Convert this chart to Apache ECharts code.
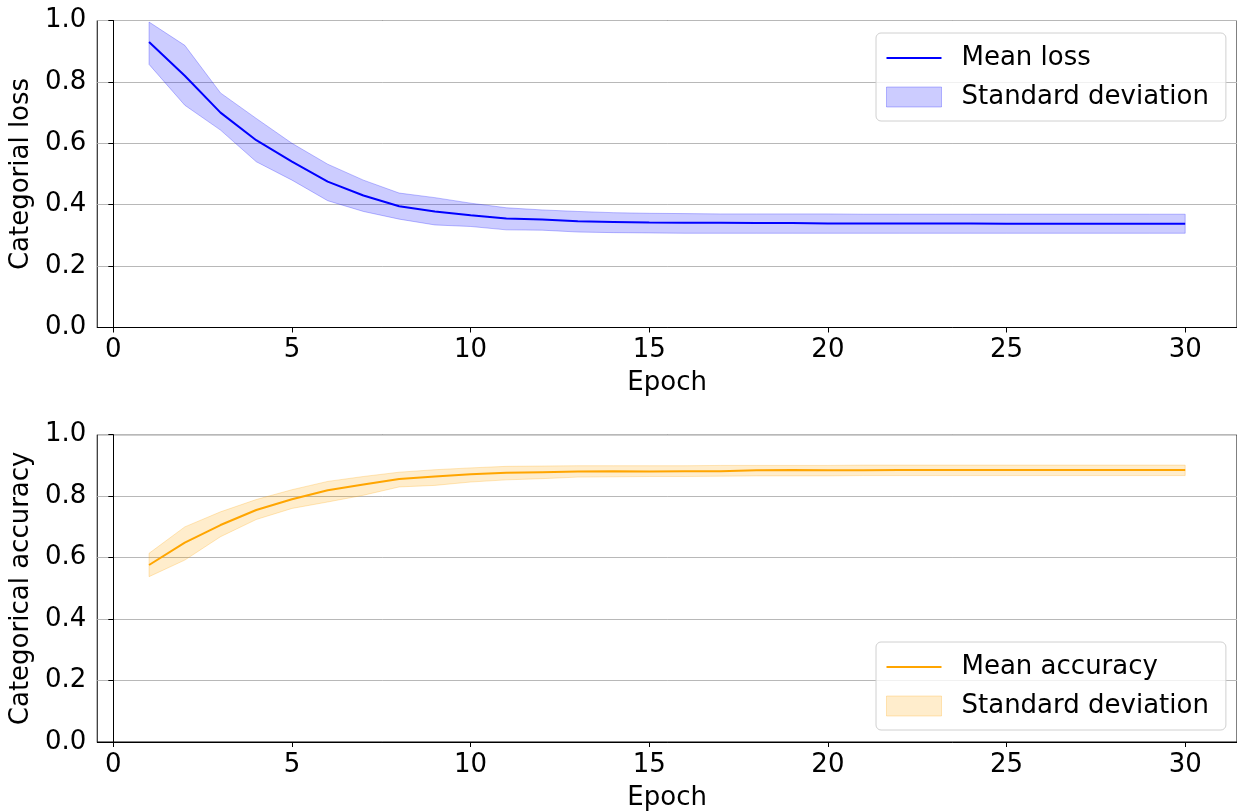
<!DOCTYPE html>
<html>
<head>
<meta charset="utf-8">
<script src="https://cdn.jsdelivr.net/npm/echarts@6/dist/echarts.min.js"></script>
<style>
  html, body { margin: 0; padding: 0; background: #fff; }
  #chart { width: 1237px; height: 812px; }
</style>
</head>
<body>
<div id="chart"></div>
<script>
// Training curves: mean categorical loss / accuracy per epoch with a ±1 std band
const epochs = [1,2,3,4,5,6,7,8,9,10,11,12,13,14,15,16,17,18,19,20,21,22,23,24,25,26,27,28,29,30];

const lossMean  = [0.930,0.820,0.700,0.610,0.540,0.475,0.430,0.395,0.378,0.366,0.355,0.352,0.346,0.344,0.342,0.341,0.341,0.340,0.340,0.339,0.339,0.339,0.339,0.339,0.338,0.338,0.338,0.338,0.338,0.338];
const lossUpper = [0.995,0.919,0.764,0.681,0.600,0.532,0.480,0.438,0.423,0.405,0.390,0.383,0.378,0.374,0.372,0.371,0.370,0.370,0.370,0.370,0.369,0.369,0.369,0.369,0.369,0.369,0.369,0.369,0.369,0.369];
const lossLower = [0.857,0.724,0.643,0.540,0.480,0.413,0.378,0.353,0.334,0.329,0.318,0.317,0.311,0.309,0.308,0.307,0.307,0.307,0.307,0.307,0.307,0.307,0.307,0.307,0.307,0.307,0.307,0.307,0.307,0.307];

const accMean  = [0.576,0.649,0.706,0.755,0.790,0.819,0.838,0.856,0.864,0.871,0.876,0.878,0.880,0.881,0.880,0.881,0.881,0.884,0.885,0.884,0.884,0.885,0.885,0.885,0.885,0.885,0.885,0.885,0.885,0.885];
const accUpper = [0.614,0.700,0.749,0.789,0.821,0.848,0.864,0.878,0.886,0.892,0.897,0.898,0.899,0.899,0.899,0.899,0.900,0.900,0.900,0.900,0.901,0.901,0.901,0.901,0.901,0.901,0.901,0.901,0.901,0.901];
const accLower = [0.538,0.592,0.668,0.724,0.760,0.781,0.803,0.830,0.835,0.846,0.853,0.857,0.862,0.863,0.864,0.864,0.865,0.866,0.866,0.866,0.867,0.867,0.867,0.867,0.867,0.867,0.867,0.867,0.867,0.867];

const xTicks = [0,5,10,15,20,25,30];

const legendText = {
  lossMean: 'Mean loss',
  lossStd: 'Standard deviation',
  accMean: 'Mean accuracy',
  accStd: 'Standard deviation'
};

const FONT = 'DejaVu Sans';
const FS = 26;

function xAxisFor(gridIndex) {
  return {
    type: 'value', gridIndex,
    min: -0.45, max: 31.45,
    name: 'Epoch', nameLocation: 'middle', nameGap: 43,
    nameTextStyle: { fontFamily: FONT, fontSize: FS, color: '#000' },
    axisLine: { show: true, lineStyle: { color: '#000', width: 1 } },
    axisTick: { show: true, inside: false, length: 5, lineStyle: { color: '#000' }, customValues: xTicks },
    axisLabel: { fontFamily: FONT, fontSize: FS, color: '#000', margin: 10, customValues: xTicks },
    splitLine: { show: false }
  };
}

function yAxisFor(gridIndex, title) {
  return {
    type: 'value', gridIndex,
    min: 0, max: 1, interval: 0.2,
    name: title, nameLocation: 'middle', nameGap: 54,
    nameTextStyle: { fontFamily: FONT, fontSize: FS, color: '#000' },
    axisLine: { show: true, lineStyle: { color: '#000', width: 1 } },
    axisTick: { show: true, inside: false, length: 5, lineStyle: { color: '#000' } },
    axisLabel: { fontFamily: FONT, fontSize: FS, color: '#000', margin: 11,
                 formatter: v => v.toFixed(1) },
    splitLine: { show: true, lineStyle: { color: '#b8b8b8', width: 1 } }
  };
}

function band(name, lo, hi, fill, edge, idx) {
  return {
    type: 'custom', name,
    xAxisIndex: idx, yAxisIndex: idx,
    data: epochs.map((e, i) => [e, lo[i], hi[i]]),
    encode: { x: 0, y: [1, 2] },
    itemStyle: { color: fill, borderColor: edge },
    z: 1,
    renderItem: (params, api) => {
      if (params.dataIndex !== 0) return null;
      const pts = [];
      for (let i = 0; i < epochs.length; i++) pts.push(api.coord([epochs[i], hi[i]]));
      for (let i = epochs.length - 1; i >= 0; i--) pts.push(api.coord([epochs[i], lo[i]]));
      return { type: 'polygon', shape: { points: pts }, style: { fill, stroke: edge, lineWidth: 1 } };
    }
  };
}

function meanLine(name, vals, color, idx) {
  return {
    type: 'line', name,
    xAxisIndex: idx, yAxisIndex: idx,
    data: epochs.map((e, i) => [e, vals[i]]),
    symbol: 'none', showSymbol: false,
    lineStyle: { color, width: 2 },
    itemStyle: { color },
    z: 3
  };
}

// thin bar used as the legend swatch for a plain line
const LINE_ICON = 'path://M0,0H55V2H0Z';

function legendFor(top, lineName, bandName, lineColor, fill, edge) {
  return {
    orient: 'vertical', left: 876, top,
    padding: [12, 17, 11, 10],
    itemGap: 13, itemWidth: 55, itemHeight: 20,
    symbolKeepAspect: true,
    backgroundColor: 'rgba(255,255,255,0.8)',
    borderColor: '#d0d0d0', borderWidth: 1, borderRadius: 5,
    textStyle: { fontFamily: FONT, fontSize: FS, color: '#000', lineHeight: 26, padding: [0, 0, 0, 15] },
    formatter: n => legendText[n],
    selectedMode: false,
    data: [
      { name: lineName, icon: LINE_ICON, itemStyle: { color: lineColor, borderWidth: 0 } },
      { name: bandName, icon: 'rect', itemStyle: { color: fill, borderColor: edge, borderWidth: 1 } }
    ]
  };
}

const chart = echarts.init(document.getElementById('chart'), null, { renderer: 'canvas' });
chart.setOption({
  backgroundColor: '#fff',
  animation: false,
  grid: [
    { left: 97, top: 20.5, width: 1143, height: 307, show: true, borderColor: '#000', borderWidth: 1, backgroundColor: 'transparent' },
    { left: 97, top: 434.7, width: 1143, height: 307.3, show: true, borderColor: '#000', borderWidth: 1, backgroundColor: 'transparent' }
  ],
  xAxis: [xAxisFor(0), xAxisFor(1)],
  yAxis: [yAxisFor(0, 'Categorial loss'), yAxisFor(1, 'Categorical accuracy')],
  legend: [
    legendFor(33, 'lossMean', 'lossStd', '#0000ff', 'rgba(0,0,255,0.2)', 'rgba(0,0,255,0.25)'),
    legendFor(642, 'accMean', 'accStd', '#ffa500', 'rgba(255,165,0,0.2)', 'rgba(255,165,0,0.25)')
  ],
  series: [
    band('lossStd', lossLower, lossUpper, 'rgba(0,0,255,0.2)', 'rgba(0,0,255,0.25)', 0),
    meanLine('lossMean', lossMean, '#0000ff', 0),
    band('accStd', accLower, accUpper, 'rgba(255,165,0,0.2)', 'rgba(255,165,0,0.25)', 1),
    meanLine('accMean', accMean, '#ffa500', 1)
  ]
});
</script>
</body>
</html>
